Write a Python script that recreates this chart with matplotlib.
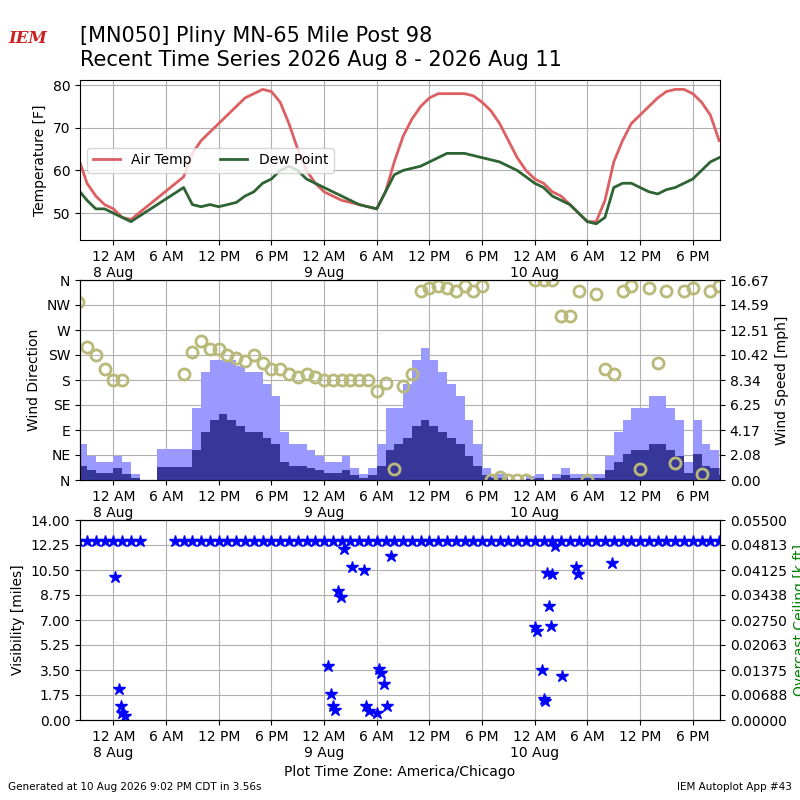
import numpy as np
import pandas as pd
import matplotlib
matplotlib.use("Agg")
import matplotlib.pyplot as plt

# hourly obs from 2026-08-07 20:00 CDT
times = pd.date_range("2026-08-07 20:00", periods=74, freq="h")
nan = np.nan

temp = [63, 57, 54, 52, 51, 49, 48.5, nan, nan, nan, nan, nan, 58.5, 64, 67, 69,
        71, 73, 75, 77, 78, 79, 78.5, 76, 71, 65, 60, 57, 55, 54, 53, 52.5,
        52, 51.5, 51, 55, 62, 68, 72, 75, 77, 78, 78, 78, 78, 77.5, 76, 74,
        71, 67, 63, 60, 58, 57, 55, 54, 52, 50, 48, 48, 53, 62, 67, 71,
        73, 75, 77, 78.5, 79, 79, 78, 76, 73, 67]
dewp = [55.5, 53, 51, 51, 50, 49, 48, nan, nan, nan, nan, nan, 56, 52, 51.5, 52,
        51.5, 52, 52.5, 54, 55, 57, 58, 60, 61, 60, 58, 57, 56, 55, 54, 53,
        52, 51.5, 51, 55, 59, 60, 60.5, 61, 62, 63, 64, 64, 64, 63.5, 63, 62.5,
        62, 61, 60, 58.5, 57, 56, 54, 53, 52, 50, 48, 47.5, 49, 56, 57, 57,
        56, 55, 54.5, 55.5, 56, 57, 58, 60, 62, 63]

gust = [3, 2, 1.5, 1.5, 2, 1.5, 0.5, 0, 0, 2.6, 2.6, 2.6, 2.6, 6, 9, 10,
        10, 10, 9.5, 9, 9, 8, 7, 4, 3, 3, 2.5, 2, 1.5, 1.5, 2, 1,
        0.5, 1, 3, 6, 6, 8, 10, 11, 10, 9, 8, 7, 5, 3, 1, 0.5,
        0.5, 0, 0, 0.3, 0.5, 0, 0.5, 1, 0.5, 0.5, 0.5, 0.5, 2, 4, 5, 6,
        6, 7, 7, 6, 5, 1.5, 5, 3, 2.5, 1]
sped = [1.2, 0.8, 0.6, 0.6, 1, 0.5, 0.2, 0, 0, 1.1, 1.1, 1.1, 1.1, 2.5, 4, 5,
        5.5, 5, 4.5, 4, 4, 3.5, 3, 1.5, 1.2, 1.2, 1, 0.8, 0.6, 0.6, 0.8, 0.4,
        0.2, 0.4, 1.2, 2.5, 3, 3.5, 4.5, 5, 4.5, 4, 3.5, 3, 2, 1.2, 0.4, 0.2,
        0.2, 0, 0, 0.1, 0.2, 0, 0.2, 0.4, 0.2, 0.2, 0.2, 0.2, 0.8, 1.5, 2.2, 2.5,
        2.5, 3, 3, 2.5, 2, 0.6, 2.2, 1.2, 1, 0.4]
drct = [320, 240, 225, 200, 180, 180, nan, nan, nan, nan, nan, nan, 190, 230, 250, 235,
        235, 225, 220, 215, 225, 210, 200, 200, 190, 185, 190, 185, 180, 180, 180, 180,
        180, 180, 160, 175, 20, 170, 190, 340, 345, 350, 345, 340, 350, 340, 350, 0,
        5, 0, 0, 0, 360, 360, 360, 295, 295, 340, 0, 335, 200, 190, 340, 350,
        20, 345, 210, 340, 30, 340, 345, 10, 340, 350]
spd_labels = ["0.00", "2.08", "4.17", "6.25", "8.34", "10.42", "12.51", "14.59", "16.67"]

vsby = [12.5] * 8 + [nan] * 3 + [12.5] * 63
# low visibility reports: hours after start, miles
low_hr = [4.2, 4.6, 4.9, 5.0, 5.3, 28.5, 28.8, 29.0, 29.3, 29.6, 29.9, 30.3, 31.2,
          32.5, 32.8, 33.1, 34.0, 34.3, 34.5, 34.8, 35.2, 35.6, 52.0, 52.2, 52.8,
          53.0, 53.2, 53.4, 53.6, 53.9, 54.0, 54.3, 55.1, 56.7, 56.9, 60.8]
low_vs = [10.0, 2.2, 1.0, 0.5, 0.3, 3.8, 1.8, 1.0, 0.7, 9.0, 8.6, 12.0, 10.7,
          10.5, 1.0, 0.6, 0.5, 3.6, 3.3, 2.5, 1.0, 11.5, 6.5, 6.2, 3.5, 1.5,
          1.3, 10.3, 8.0, 6.6, 10.2, 12.2, 3.1, 10.7, 10.2, 11.0]
low_t = [times[0] + pd.Timedelta(hours=h) for h in low_hr]

fig = plt.figure(figsize=(8, 8), dpi=100)
ax1 = fig.add_axes([0.1, 0.7, 0.8, 0.2])
ax2 = fig.add_axes([0.1, 0.4, 0.8, 0.25])
ax3 = fig.add_axes([0.1, 0.1, 0.8, 0.25])

xmin = pd.Timestamp("2026-08-07 20:12")
xmax = pd.Timestamp("2026-08-10 21:06")

def fmt_x(ax):
    ax.set_xlim(xmin, xmax)
    ticks = pd.date_range("2026-08-08 00:00", "2026-08-10 18:00", freq="6h")
    labs = []
    for t in ticks:
        s = t.strftime("%-I %p")
        if t.hour == 0:
            s += "\n" + t.strftime("%-d %b")
        labs.append(s)
    ax.set_xticks(ticks)
    ax.set_xticklabels(labs)
    ax.grid(True, color="#b0b0b0")

# Temperature
t_ser = pd.Series(temp, index=times).dropna()
d_ser = pd.Series(dewp, index=times).dropna()
ax1.plot(t_ser.index, t_ser.values, color="#dd5f62", lw=2, label="Air Temp")
ax1.plot(d_ser.index, d_ser.values, color="#2e6434", lw=2, label="Dew Point")
ax1.set_ylim(43.7, 81.2)
ax1.set_yticks([50, 60, 70, 80])
ax1.set_ylabel("Temperature [F]")
ax1.legend(loc="upper left", bbox_to_anchor=(0.0, 0.62), ncol=2, fontsize=10)
fmt_x(ax1)

# Wind: bars (speed) on ax2 with right axis, direction circles on twin with left axis
ax2d = ax2.twinx()
w = pd.Timedelta(hours=1)
ax2.bar(times, gust, width=w, align="edge", color="#9999ff", zorder=2)
ax2.bar(times, sped, width=w, align="edge", color="#373799", zorder=3)
ax2.set_ylim(0, 16.68)
ax2.set_yticks([16.68 * i / 8 for i in range(9)])
ax2.set_yticklabels(spd_labels)
ax2.yaxis.tick_right()
ax2.yaxis.set_label_position("right")
ax2.set_ylabel("Wind Speed [mph]")
fmt_x(ax2)
ax2d.plot(times, drct, "o", mfc="none", mec="#b9b97a", mew=2, ms=8)
ax2d.set_ylim(0, 360)
ax2d.set_yticks(range(0, 361, 45))
ax2d.set_yticklabels(["N", "NE", "E", "SE", "S", "SW", "W", "NW", "N"])
ax2d.yaxis.tick_left()
ax2d.yaxis.set_label_position("left")
ax2d.set_ylabel("Wind Direction")
ax2d.set_xlim(xmin, xmax)

# Visibility
ax3c = ax3.twinx()
ax3.plot(times, vsby, "*", color="blue", ms=9, ls="none")
ax3.plot(low_t, low_vs, "*", color="blue", ms=9, ls="none")
ax3.set_ylim(0, 14)
v_ticks = [1.75 * i for i in range(9)]
ax3.set_yticks(v_ticks)
ax3.set_yticklabels(["%.2f" % v for v in v_ticks])
ax3.set_ylabel("Visibility [miles]")
fmt_x(ax3)
ax3.set_xlabel("Plot Time Zone: America/Chicago")
ax3c.set_ylim(0, 0.055)
c_ticks = [0.055 * i / 8 for i in range(9)]
ax3c.set_yticks(c_ticks)
ax3c.set_yticklabels(["%.5f" % v for v in c_ticks])
ax3c.set_ylabel("Overcast Ceiling [k ft]", color="green")

fig.text(0.1, 0.955, "[MN050] Pliny MN-65 Mile Post 98", fontsize=15, va="center")
fig.text(0.1, 0.925, "Recent Time Series 2026 Aug 8 - 2026 Aug 11", fontsize=15, va="center")
fig.text(0.035, 0.952, "IEM", color="#cc2222", fontsize=12, style="italic",
         fontweight="bold", ha="center", va="center", family="serif")
fig.text(0.01, 0.012, "Generated at 10 Aug 2026 9:02 PM CDT in 3.56s", fontsize=7.5)
fig.text(0.99, 0.012, "IEM Autoplot App #43", fontsize=7.5, ha="right")

fig.savefig("out.png", dpi=100)
